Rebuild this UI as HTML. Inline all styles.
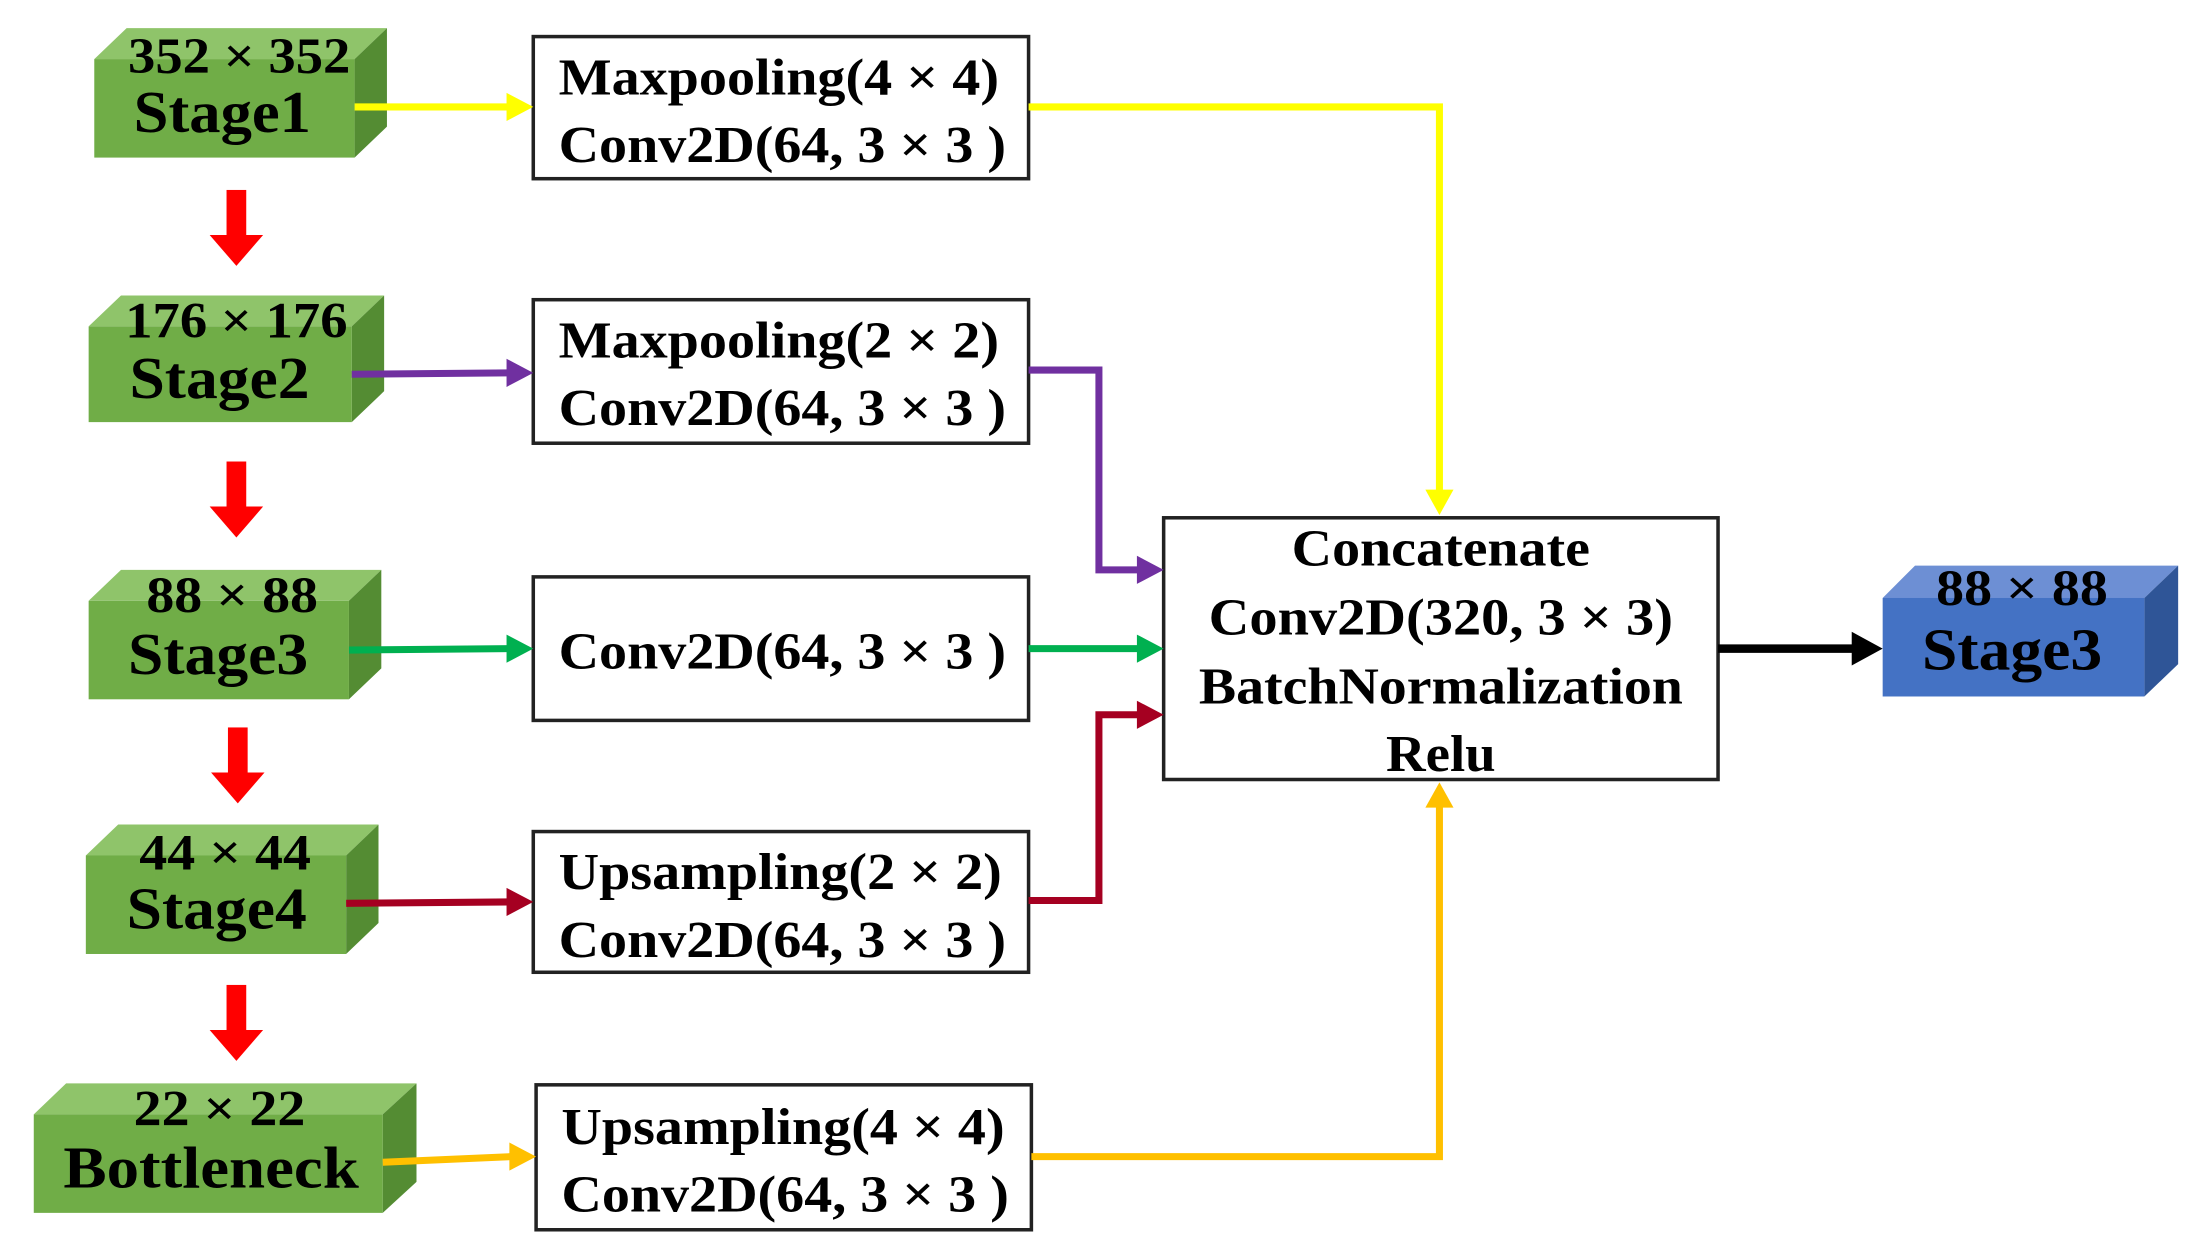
<!DOCTYPE html>
<html><head><meta charset="utf-8"><style>
html,body{margin:0;padding:0;background:#fff;}
svg{display:block;}
text{font-family:"Liberation Serif",serif;font-weight:bold;fill:#000;}
</style></head><body>
<svg width="2188" height="1242" viewBox="0 0 1555 882.7" preserveAspectRatio="none" xmlns="http://www.w3.org/2000/svg">
<defs>
<g id="redarrow"><rect x="-7" y="0" width="14" height="34" fill="#ff0000"/><polygon points="-19,32 19,32 0,54" fill="#ff0000"/></g>
</defs>
<!-- cubes -->
<g>
<polygon points="67,42 90,20 275,20 252,42" fill="#8fc46a"/><polygon points="252,42 275,20 275,90 252,112" fill="#548c33"/><rect x="67" y="42" width="185" height="70" fill="#70ad47"/>
<text x="170" y="52" font-size="36" text-anchor="middle" textLength="158" lengthAdjust="spacingAndGlyphs">352 × 352</text>
<text x="158" y="94" font-size="42" text-anchor="middle" textLength="126" lengthAdjust="spacingAndGlyphs">Stage1</text>
</g>
<g>
<polygon points="63,232 86,210 273,210 250,232" fill="#8fc46a"/><polygon points="250,232 273,210 273,278 250,300" fill="#548c33"/><rect x="63" y="232" width="187" height="68" fill="#70ad47"/>
<text x="168" y="240" font-size="36" text-anchor="middle" textLength="158" lengthAdjust="spacingAndGlyphs">176 × 176</text>
<text x="156" y="283" font-size="42" text-anchor="middle" textLength="128" lengthAdjust="spacingAndGlyphs">Stage2</text>
</g>
<g>
<polygon points="63,427 86,405 271,405 248,427" fill="#8fc46a"/><polygon points="248,427 271,405 271,475 248,497" fill="#548c33"/><rect x="63" y="427" width="185" height="70" fill="#70ad47"/>
<text x="165" y="435" font-size="36" text-anchor="middle" textLength="122" lengthAdjust="spacingAndGlyphs">88 × 88</text>
<text x="155" y="479" font-size="42" text-anchor="middle" textLength="128" lengthAdjust="spacingAndGlyphs">Stage3</text>
</g>
<g>
<polygon points="61,608 84,586 269,586 246,608" fill="#8fc46a"/><polygon points="246,608 269,586 269,656 246,678" fill="#548c33"/><rect x="61" y="608" width="185" height="70" fill="#70ad47"/>
<text x="160" y="618" font-size="36" text-anchor="middle" textLength="122" lengthAdjust="spacingAndGlyphs">44 × 44</text>
<text x="154" y="660" font-size="42" text-anchor="middle" textLength="128" lengthAdjust="spacingAndGlyphs">Stage4</text>
</g>
<g>
<polygon points="24,792 47,770 296,770 272,792" fill="#8fc46a"/><polygon points="272,792 296,770 296,840 272,862" fill="#548c33"/><rect x="24" y="792" width="248" height="70" fill="#70ad47"/>
<text x="156" y="800" font-size="36" text-anchor="middle" textLength="122" lengthAdjust="spacingAndGlyphs">22 × 22</text>
<text x="150" y="844" font-size="42" text-anchor="middle" textLength="210" lengthAdjust="spacingAndGlyphs">Bottleneck</text>
</g>
<g>
<polygon points="1338,425 1361,402 1548,402 1524,425" fill="#6d8fd4"/><polygon points="1524,425 1548,402 1548,472 1524,495" fill="#2f5597"/><rect x="1338" y="425" width="186" height="70" fill="#4472c4"/>
<text x="1437" y="430" font-size="36" text-anchor="middle" textLength="122" lengthAdjust="spacingAndGlyphs">88 × 88</text>
<text x="1430" y="476" font-size="42" text-anchor="middle" textLength="128" lengthAdjust="spacingAndGlyphs">Stage3</text>
</g>
<!-- red arrows -->
<use href="#redarrow" x="168" y="135"/>
<use href="#redarrow" x="168" y="328"/>
<use href="#redarrow" x="169" y="517"/>
<use href="#redarrow" x="168" y="700"/>
<!-- boxes -->
<g fill="#fff" stroke="#222" stroke-width="2.5">
<rect x="379" y="26" width="352" height="101"/>
<rect x="379" y="213" width="352" height="102"/>
<rect x="379" y="410" width="352" height="102"/>
<rect x="379" y="591" width="352" height="100"/>
<rect x="381" y="771" width="352" height="103"/>
<rect x="827" y="368" width="394" height="186"/>
</g>
<g font-size="37">
<text x="397" y="67" textLength="313" lengthAdjust="spacingAndGlyphs">Maxpooling(4 × 4)</text>
<text x="397" y="115" textLength="318" lengthAdjust="spacingAndGlyphs">Conv2D(64, 3 × 3 )</text>
<text x="397" y="254" textLength="313" lengthAdjust="spacingAndGlyphs">Maxpooling(2 × 2)</text>
<text x="397" y="302" textLength="318" lengthAdjust="spacingAndGlyphs">Conv2D(64, 3 × 3 )</text>
<text x="397" y="475" textLength="318" lengthAdjust="spacingAndGlyphs">Conv2D(64, 3 × 3 )</text>
<text x="397" y="632" textLength="315" lengthAdjust="spacingAndGlyphs">Upsampling(2 × 2)</text>
<text x="397" y="680" textLength="318" lengthAdjust="spacingAndGlyphs">Conv2D(64, 3 × 3 )</text>
<text x="399" y="813" textLength="315" lengthAdjust="spacingAndGlyphs">Upsampling(4 × 4)</text>
<text x="399" y="861" textLength="318" lengthAdjust="spacingAndGlyphs">Conv2D(64, 3 × 3 )</text>
<text x="1024" y="402" text-anchor="middle" textLength="212" lengthAdjust="spacingAndGlyphs">Concatenate</text>
<text x="1024" y="451" text-anchor="middle" textLength="330" lengthAdjust="spacingAndGlyphs">Conv2D(320, 3 × 3)</text>
<text x="1024" y="500" text-anchor="middle" textLength="344" lengthAdjust="spacingAndGlyphs">BatchNormalization</text>
<text x="1024" y="548" text-anchor="middle" textLength="78" lengthAdjust="spacingAndGlyphs">Relu</text>
</g>
<!-- connectors -->
<g fill="none" stroke-width="5">
<polyline points="252,76 362,76" stroke="#ffff00"/>
<polyline points="731,76 1023,76 1023,350" stroke="#ffff00"/>
<polyline points="250,266 362,265" stroke="#7030a0"/>
<polyline points="731,263 781,263 781,405 810,405" stroke="#7030a0"/>
<polyline points="248,462 362,461" stroke="#00b050"/>
<polyline points="731,461 810,461" stroke="#00b050"/>
<polyline points="246,642 362,641" stroke="#a50021"/>
<polyline points="731,640 781,640 781,508 810,508" stroke="#a50021"/>
<polyline points="272,826 364,822" stroke="#ffc000"/>
<polyline points="733,822 1023,822 1023,572" stroke="#ffc000"/>
<polyline points="1221,461 1318,461" stroke="#000" stroke-width="6"/>
</g>
<g>
<polygon points="360,66 379,76 360,86" fill="#ffff00"/>
<polygon points="1013,348 1023,366 1033,348" fill="#ffff00"/>
<polygon points="360,255 379,265 360,275" fill="#7030a0"/>
<polygon points="808,395 827,405 808,415" fill="#7030a0"/>
<polygon points="360,451 379,461 360,471" fill="#00b050"/>
<polygon points="808,451 827,461 808,471" fill="#00b050"/>
<polygon points="360,631 379,641 360,651" fill="#a50021"/>
<polygon points="808,498 827,508 808,518" fill="#a50021"/>
<polygon points="362,812 381,822 362,832" fill="#ffc000"/>
<polygon points="1013,574 1023,556 1033,574" fill="#ffc000"/>
<polygon points="1316,449 1338,461 1316,473" fill="#000"/>
</g>
</svg>
</body></html>
